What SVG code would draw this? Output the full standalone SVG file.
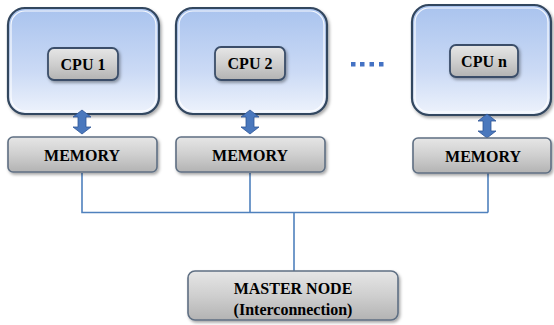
<svg xmlns="http://www.w3.org/2000/svg" width="554" height="325" viewBox="0 0 554 325">
<defs>
<linearGradient id="gBlue" x1="0" y1="0" x2="0" y2="1">
<stop offset="0" stop-color="#a9c3ee"/>
<stop offset="0.6" stop-color="#cbdaf5"/>
<stop offset="1" stop-color="#eef3fc"/>
</linearGradient>
<linearGradient id="gGray" x1="0" y1="0" x2="0" y2="1">
<stop offset="0" stop-color="#e6e6e6"/>
<stop offset="0.5" stop-color="#cfcfcf"/>
<stop offset="1" stop-color="#b3b3b3"/>
</linearGradient>
<filter id="sh" x="-10%" y="-10%" width="130%" height="140%">
<feDropShadow dx="1.5" dy="2" stdDeviation="1.5" flood-color="#000" flood-opacity="0.35"/>
</filter>
<path id="dArrow" d="M0,-12 L9,-5 L4,-5 L4,5 L9,5 L0,12 L-9,5 L-4,5 L-4,-5 L-9,-5 Z"/>
</defs>
<style>
.outer{fill:url(#gBlue);stroke:#33475f;stroke-width:2.2;filter:url(#sh)}
.outerIn{fill:none;stroke:#ffffff;stroke-width:1.2;opacity:0.9}
.cpu{fill:url(#gGray);stroke:#3a4e69;stroke-width:1.8;filter:url(#sh)}
.mem{fill:url(#gGray);stroke:#5f6f83;stroke-width:1.6;filter:url(#sh)}
.lbl{font-weight:bold;font-size:16px;fill:#000;text-anchor:middle}
.arr{fill:#4a78bd;stroke:#2f5597;stroke-width:0.8}
.con{fill:none;stroke:#4f81bd;stroke-width:1.6}
.dot{fill:#4472c4}
</style>

<g id="connectors">
<polyline class="con" points="82,173 82,212.5 488,212.5"/>
<line class="con" x1="250" y1="173" x2="250" y2="212.5"/>
<line class="con" x1="488" y1="173" x2="488" y2="212.5"/>
<line class="con" x1="294" y1="212.5" x2="294" y2="271"/>
</g>

<g id="node1">
<rect class="outer" x="8" y="8" width="151" height="106" rx="17"/>
<rect class="outerIn" x="11" y="11" width="145" height="100" rx="14"/>
</g>
<g id="cpu1">
<rect class="cpu" x="48" y="48" width="70" height="32" rx="6"/>
<text class="lbl" font-family="'Liberation Serif', 'DejaVu Serif', serif" x="83" y="69.5">CPU 1</text>
</g>
<g id="node2">
<rect class="outer" x="176" y="8" width="151" height="106" rx="17"/>
<rect class="outerIn" x="179" y="11" width="145" height="100" rx="14"/>
</g>
<g id="cpu2">
<rect class="cpu" x="215" y="47" width="70" height="33" rx="6"/>
<text class="lbl" font-family="'Liberation Serif', 'DejaVu Serif', serif" x="250" y="69">CPU 2</text>
</g>
<g id="noden">
<rect class="outer" x="412" y="5" width="139" height="110" rx="17"/>
<rect class="outerIn" x="415" y="8" width="133" height="104" rx="14"/>
</g>
<g id="cpun">
<rect class="cpu" x="450" y="45" width="68" height="32" rx="6"/>
<text class="lbl" font-family="'Liberation Serif', 'DejaVu Serif', serif" x="484" y="66.5">CPU n</text>
</g>

<g id="arrows">
<use href="#dArrow" class="arr" x="82" y="122"/>
<use href="#dArrow" class="arr" x="250" y="122"/>
<use href="#dArrow" class="arr" x="487" y="126"/>
</g>

<g id="dots">
<rect class="dot" x="351" y="62" width="4.5" height="4.5"/>
<rect class="dot" x="360" y="62" width="4.5" height="4.5"/>
<rect class="dot" x="369.5" y="62" width="4.5" height="4.5"/>
<rect class="dot" x="379" y="62" width="4.5" height="4.5"/>
</g>

<g id="mem1">
<rect class="mem" x="8" y="137" width="149" height="35" rx="5"/>
<text class="lbl" font-family="'Liberation Serif', 'DejaVu Serif', serif" x="82" y="160.5">MEMORY</text>
</g>
<g id="mem2">
<rect class="mem" x="176" y="137" width="149" height="35" rx="5"/>
<text class="lbl" font-family="'Liberation Serif', 'DejaVu Serif', serif" x="250" y="160.5">MEMORY</text>
</g>
<g id="memn">
<rect class="mem" x="413" y="138" width="138" height="35" rx="5"/>
<text class="lbl" font-family="'Liberation Serif', 'DejaVu Serif', serif" x="483" y="161.5">MEMORY</text>
</g>

<g id="master">
<rect class="mem" x="188" y="271" width="210" height="49" rx="7"/>
<text class="lbl" font-family="'Liberation Serif', 'DejaVu Serif', serif" font-size="17" x="293" y="294">MASTER NODE</text>
<text class="lbl" font-family="'Liberation Serif', 'DejaVu Serif', serif" font-size="17" x="293" y="315">(Interconnection)</text>
</g>
</svg>
